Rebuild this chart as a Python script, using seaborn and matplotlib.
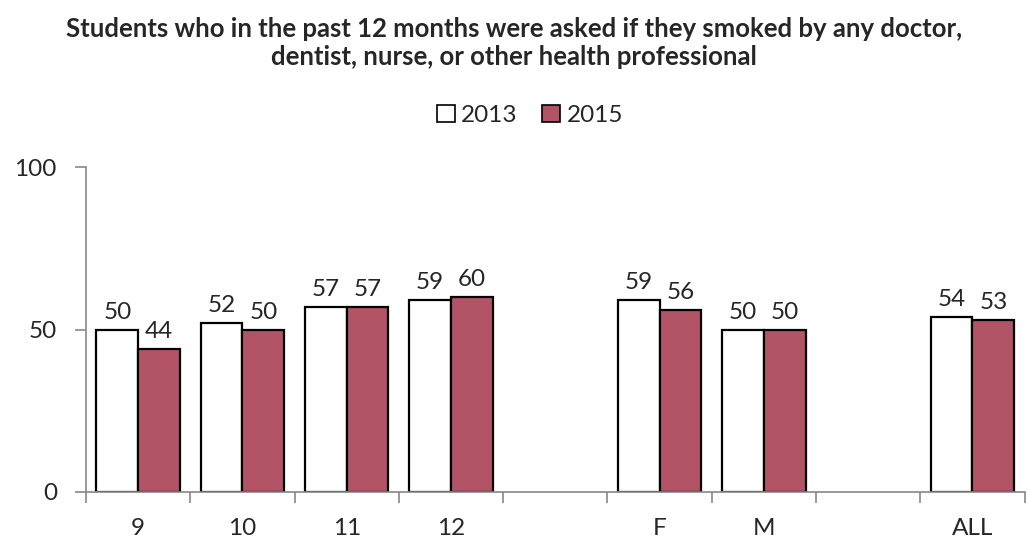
import numpy as np
import pandas as pd
import matplotlib
matplotlib.use("Agg")
import matplotlib.pyplot as plt
import seaborn as sns

# categories, with two empty spacer slots as in the original layout
CATEGORIES = ["9", "10", "11", "12", " ", "F", "M", "  ", "ALL"]
GROUPS = ["9", "10", "11", "12", "F", "M", "ALL"]
VALUES_2013 = [50, 52, 57, 59, 59, 50, 54]
VALUES_2015 = [44, 50, 57, 60, 56, 50, 53]
YEARS = ["2013", "2015"]

TITLE = ("Students who in the past 12 months were asked if they smoked by any doctor,\n"
         "dentist, nurse, or other health professional")

df = pd.DataFrame({
    "group": GROUPS * 2,
    "year": [YEARS[0]] * len(GROUPS) + [YEARS[1]] * len(GROUPS),
    "value": VALUES_2013 + VALUES_2015,
})

sns.set_style("white")
plt.rcParams["font.family"] = ["Lato", "DejaVu Sans"]

fig = plt.figure(figsize=(10.28, 5.43), dpi=100)
ax = fig.add_axes([0.0837, 0.094, 0.913, 0.598])

palette = {"2013": "#FFFFFF", "2015": "#B35466"}
sns.barplot(
    data=df, x="group", y="value", hue="year",
    order=CATEGORIES, hue_order=YEARS, palette=palette,
    width=0.8, edgecolor="black", linewidth=1.6, saturation=1,
    errorbar=None, ax=ax,
)

for cont in ax.containers:
    ax.bar_label(cont, fmt="%.0f", padding=5, fontsize=17.5)

ax.set_ylim(0, 100)
ax.set_yticks([0, 50, 100])
ax.set_xlim(-0.5, len(CATEGORIES) - 0.5)
ax.set_xlabel("")
ax.set_ylabel("")

# ticks sit between categories, labels centred under each slot
ax.set_xticks(np.arange(-0.5, len(CATEGORIES), 1.0), minor=False)
ax.set_xticklabels([])
ax.set_xticks(np.arange(len(CATEGORIES)), minor=True)
ax.set_xticklabels(CATEGORIES, minor=True)
ax.tick_params(axis="x", which="major", bottom=True, direction="out",
               length=8, width=1.2, color="#888888")
ax.tick_params(axis="x", which="minor", bottom=False, length=0, pad=19,
               labelsize=17.5)
ax.tick_params(axis="y", left=True, direction="out", length=8, width=1.2,
               color="#888888", labelsize=17.5, pad=13)

for side in ["top", "right"]:
    ax.spines[side].set_visible(False)
for side in ["left", "bottom"]:
    ax.spines[side].set_color("#888888")
    ax.spines[side].set_linewidth(1.2)

leg = ax.legend(loc="lower center", bbox_to_anchor=(0.473, 1.06), ncol=2,
                frameon=False, fontsize=17.5, handlelength=0.75,
                handleheight=0.75, handletextpad=0.25, columnspacing=1.0)
for h in leg.legend_handles:
    h.set_edgecolor("black")
    h.set_linewidth(1.2)

fig.suptitle(TITLE, x=0.5, y=0.968, fontsize=18.5, fontweight="bold",
             linespacing=1.2)

fig.savefig("out.png", dpi=100)
